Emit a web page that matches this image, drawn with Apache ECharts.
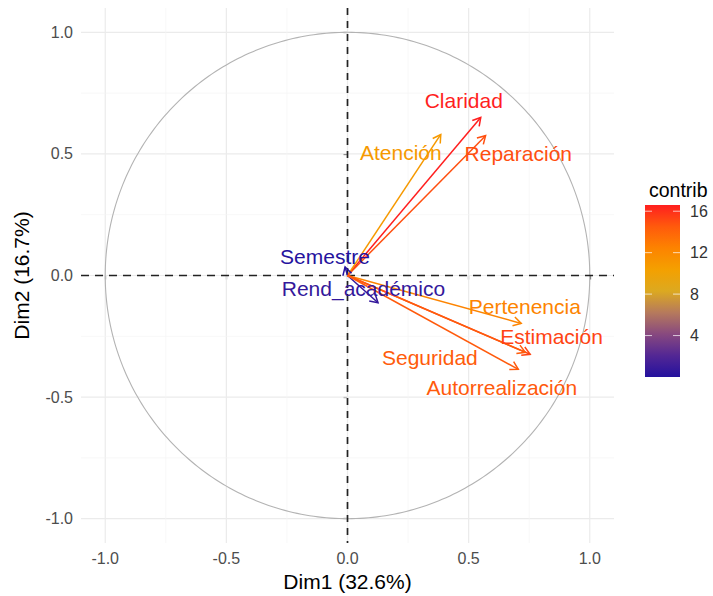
<!DOCTYPE html>
<html><head><meta charset="utf-8">
<script src="https://cdn.jsdelivr.net/npm/echarts@6/dist/echarts.min.js"></script>
<style>html,body{margin:0;padding:0;background:#fff}#c{width:713px;height:596px}</style>
</head><body><div id="c"></div>
<script>
// ---- data ----
const variables = ['Claridad', 'Atención', 'Reparación', 'Semestre', 'Rend_académico', 'Pertenencia', 'Estimación', 'Seguridad', 'Autorrealización'];
const dim1 = [0.55, 0.385, 0.57, -0.01, 0.126, 0.717, 0.754, 0.734, 0.705];
const dim2 = [0.65, 0.58, 0.575, 0.035, -0.112, -0.197, -0.324, -0.316, -0.386];
const contrib = [16.6, 10.9, 14.9, 0.05, 0.7, 12.4, 15.3, 14.4, 14.5];
const labelX = [0.48, 0.22, 0.705, -0.093, 0.066, 0.732, 0.842, 0.34, 0.637];
const labelY = [0.72, 0.505, 0.50, 0.079, -0.052, -0.127, -0.25, -0.339, -0.462];
const axisTicks = [-1, -0.5, 0, 0.5, 1];
const minorBreaks = [-0.75, -0.25, 0.25, 0.75];
const legendTicks = [4, 8, 12, 16];
const contribRange = [0, 16.6];
const palette = ['#24119E', '#532794', '#88497F', '#B67A5C', '#DCA920', '#F4A000', '#FD8300', '#FF5A0C', '#FF1F1F'];

const FONT = '"Liberation Sans", Arial, Helvetica, sans-serif';
const chart = echarts.init(document.getElementById('c'), null, {renderer: 'svg'});

const gridData = [];
axisTicks.forEach(v => { gridData.push([v, 0, 1]); gridData.push([v, 1, 1]); });
minorBreaks.forEach(v => { gridData.push([v, 0, 0]); gridData.push([v, 1, 0]); });

const varData = variables.map((n, i) => [dim1[i], dim2[i], contrib[i], labelX[i], labelY[i]]);

function renderGrid(params, api) {
  const cs = params.coordSys;
  const v = api.value(0), orient = api.value(1), major = api.value(2);
  const style = {stroke: major ? '#EBEBEB' : '#F4F4F4', lineWidth: major ? 1.2 : 0.7};
  if (orient === 0) {
    const p = api.coord([v, 0]);
    return {type: 'line', shape: {x1: p[0], y1: cs.y, x2: p[0], y2: cs.y + cs.height}, style};
  }
  const p = api.coord([0, v]);
  return {type: 'line', shape: {x1: cs.x, y1: p[1], x2: cs.x + cs.width, y2: p[1]}, style};
}

function renderCircle(params, api) {
  const pts = [];
  for (let d = 0; d <= 360; d += 1) {
    const t = d * Math.PI / 180;
    pts.push(api.coord([Math.cos(t), Math.sin(t)]));
  }
  return {type: 'polyline', shape: {points: pts}, style: {stroke: '#B3B3B3', lineWidth: 1.1, fill: null}};
}

function renderAxesZero(params, api) {
  const cs = params.coordSys;
  const o = api.coord([api.value(0), api.value(1)]);
  return {type: 'group', children: [
    {type: 'line', shape: {x1: cs.x, y1: o[1], x2: cs.x + cs.width, y2: o[1]}, style: {stroke: '#222', lineWidth: 1.7, lineDash: [8, 6]}},
    {type: 'line', shape: {x1: o[0], y1: cs.y, x2: o[0], y2: cs.y + cs.height}, style: {stroke: '#222', lineWidth: 1.7, lineDash: [7, 6]}}
  ]};
}

function renderArrow(params, api) {
  const p0 = api.coord([0, 0]);
  const p1 = api.coord([api.value(0), api.value(1)]);
  const color = api.visual('color');
  const ang = Math.atan2(p1[1] - p0[1], p1[0] - p0[0]);
  const L = 9, a = Math.PI / 6;
  const h1 = [p1[0] - L * Math.cos(ang - a), p1[1] - L * Math.sin(ang - a)];
  const h2 = [p1[0] - L * Math.cos(ang + a), p1[1] - L * Math.sin(ang + a)];
  return {type: 'group', children: [
    {type: 'line', shape: {x1: p0[0], y1: p0[1], x2: p1[0], y2: p1[1]}, style: {stroke: color, lineWidth: 1.5}},
    {type: 'polyline', shape: {points: [h1, p1, h2]}, style: {stroke: color, lineWidth: 1.5, fill: null}}
  ]};
}

function renderLabel(params, api) {
  const lp = api.coord([api.value(3), api.value(4)]);
  const color = api.visual('color');
  return {type: 'text', x: lp[0], y: lp[1], style: {text: variables[params.dataIndex], fill: color, font: '21px ' + FONT, align: 'center', verticalAlign: 'middle'}};
}

function renderColorbar(params, api) {
  const top = api.coord([0, api.value(1)]);
  const bot = api.coord([1, api.value(0)]);
  const stops = palette.map((c, i) => ({offset: i / (palette.length - 1), color: c}));
  const children = [{type: 'rect', shape: {x: top[0], y: top[1], width: bot[0] - top[0], height: bot[1] - top[1]},
    style: {fill: new echarts.graphic.LinearGradient(0, 1, 0, 0, stops)}}];
  const w = bot[0] - top[0];
  legendTicks.forEach(t => {
    const p = api.coord([0, t]);
    children.push({type: 'line', shape: {x1: top[0], y1: p[1], x2: top[0] + w * 0.2, y2: p[1]}, style: {stroke: '#fff', lineWidth: 1, opacity: 0.7}});
    children.push({type: 'line', shape: {x1: bot[0] - w * 0.2, y1: p[1], x2: bot[0], y2: p[1]}, style: {stroke: '#fff', lineWidth: 1, opacity: 0.7}});
  });
  return {type: 'group', children};
}

const option = {
  animation: false,
  backgroundColor: '#fff',
  title: {text: 'contrib', left: 644, top: 175, textStyle: {fontSize: 19.5, fontWeight: 'normal', color: '#000', fontFamily: FONT}},
  grid: [
    {left: 81, top: 8, width: 533, height: 535, containLabel: false, outerBoundsMode: 'none'},
    {left: 645, top: 205, width: 35, height: 172, containLabel: false, outerBoundsMode: 'none'}
  ],
  xAxis: [
    {type: 'value', gridIndex: 0, min: -1.1, max: 1.1,
     name: 'Dim1 (32.6%)', nameLocation: 'middle', nameGap: 26,
     nameTextStyle: {fontSize: 21, color: '#000', fontFamily: FONT},
     axisLine: {show: false}, splitLine: {show: false},
     axisTick: {show: true, customValues: axisTicks, length: 4, lineStyle: {color: '#333', width: 1.2}},
     axisLabel: {customValues: axisTicks, formatter: v => v.toFixed(1), color: '#4D4D4D', fontSize: 16, margin: 7, fontFamily: FONT}},
    {type: 'value', gridIndex: 1, min: 0, max: 1, show: false}
  ],
  yAxis: [
    {type: 'value', gridIndex: 0, min: -1.1, max: 1.1,
     name: 'Dim2 (16.7%)', nameLocation: 'middle', nameGap: 49,
     nameTextStyle: {fontSize: 21, color: '#000', fontFamily: FONT},
     axisLine: {show: false}, splitLine: {show: false},
     axisTick: {show: true, customValues: axisTicks, length: 4, lineStyle: {color: '#333', width: 1.2}},
     axisLabel: {customValues: axisTicks, formatter: v => v.toFixed(1), color: '#4D4D4D', fontSize: 16, margin: 8, fontFamily: FONT}},
    {type: 'value', gridIndex: 1, min: contribRange[0], max: contribRange[1], position: 'right',
     axisLine: {show: false}, axisTick: {show: false}, splitLine: {show: false},
     axisLabel: {customValues: legendTicks, color: '#333', fontSize: 16, margin: 10, fontFamily: FONT}}
  ],
  visualMap: {type: 'continuous', show: false, min: contribRange[0], max: contribRange[1], dimension: 2, seriesIndex: [3, 4], inRange: {color: palette}},
  series: [
    {type: 'custom', xAxisIndex: 0, yAxisIndex: 0, renderItem: renderGrid, data: gridData, silent: true, z: 1},
    {type: 'custom', xAxisIndex: 0, yAxisIndex: 0, renderItem: renderCircle, data: [[0, 0]], silent: true, z: 2},
    {type: 'custom', xAxisIndex: 0, yAxisIndex: 0, renderItem: renderAxesZero, data: [[0, 0]], silent: true, z: 3},
    {type: 'custom', xAxisIndex: 0, yAxisIndex: 0, renderItem: renderArrow, data: varData, silent: true, z: 4},
    {type: 'custom', xAxisIndex: 0, yAxisIndex: 0, renderItem: renderLabel, data: varData, silent: true, z: 5},
    {type: 'custom', xAxisIndex: 1, yAxisIndex: 1, renderItem: renderColorbar, data: [[contribRange[0], contribRange[1]]], silent: true, z: 2}
  ]
};
chart.setOption(option);
</script></body></html>
